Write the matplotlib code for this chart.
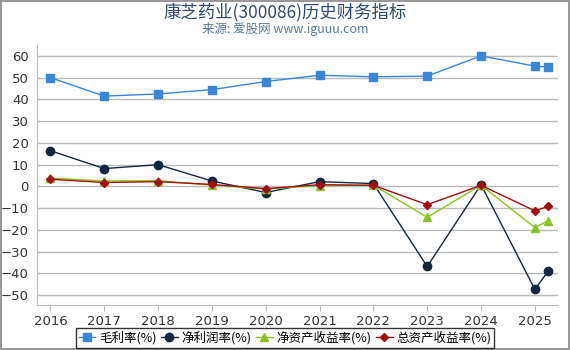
import matplotlib
matplotlib.use('Agg')
import matplotlib.pyplot as plt
from matplotlib.ticker import MultipleLocator

plt.rcParams['font.family'] = ['DejaVu Sans', 'Noto Sans CJK SC']

# 数据 (读自参考图)
x_pos = [2016, 2017, 2018, 2019, 2020, 2021, 2022, 2023, 2024, 2025, 2025.25]
year_ticks = [2016, 2017, 2018, 2019, 2020, 2021, 2022, 2023, 2024, 2025]
gross_margin = [50.0, 41.5, 42.5, 44.5, 48.2, 51.1, 50.4, 50.7, 60.0, 55.3, 54.9]
net_margin = [16.4, 8.2, 10.0, 2.5, -2.8, 2.2, 1.3, -36.8, 0.8, -47.3, -38.9]
roe = [3.8, 2.5, 2.6, 0.6, -1.2, 0.4, 0.6, -14.2, 0.6, -18.9, -15.7]
roa = [3.3, 1.8, 2.2, 0.9, -1.0, 0.8, 0.5, -8.4, 0.5, -11.2, -9.2]
series_names = ['毛利率(%)', '净利润率(%)', '净资产收益率(%)', '总资产收益率(%)']

fig = plt.figure(figsize=(5.7, 3.5), dpi=100)
fig.patch.set_edgecolor('#999999')
fig.patch.set_linewidth(1.5)
ax = fig.add_axes([37 / 570, 1 - 305 / 350, 521 / 570, 260 / 350])

ax.plot(x_pos, gross_margin, color='#3a86d6', lw=1.0, marker='s', ms=6, label=series_names[0])
ax.plot(x_pos, net_margin, color='#15263f', lw=1.0, marker='o', ms=6, label=series_names[1])
ax.plot(x_pos, roe, color='#8cc21f', lw=1.0, marker='^', ms=6, label=series_names[2])
ax.plot(x_pos, roa, color='#a00f0f', lw=1.0, marker='D', ms=4, label=series_names[3])

ax.set_xlim(2015.75, 2025.43)
ax.set_ylim(-54.5, 65)
ax.set_xticks(year_ticks)
ax.set_xticklabels([str(y) for y in year_ticks])
ax.yaxis.set_major_locator(MultipleLocator(10))
ax.grid(axis='y', color='#bbbbbb', lw=1)
ax.set_axisbelow(True)
for s in ['top', 'right']:
    ax.spines[s].set_visible(False)
for s in ['left', 'bottom']:
    ax.spines[s].set_color('#bbbbbb')
ax.tick_params(axis='y', length=0, labelsize=9.5, colors='#333333', pad=6)
ax.tick_params(axis='x', length=4, color='#bbbbbb', labelsize=9.5, labelcolor='#333333')

fig.text(0.5, 1 - 12 / 350, '康芝药业(300086)历史财务指标', ha='center', va='center',
         fontsize=12.5, color='#2f4a6e', family=['Noto Sans CJK SC', 'DejaVu Sans'])
fig.text(0.5, 1 - 29 / 350, '来源: 爱股网 www.iguuu.com', ha='center', va='center',
         fontsize=9, color='#5a7aa0', family=['Noto Sans CJK SC', 'DejaVu Sans'])

leg = fig.legend(loc='center', bbox_to_anchor=(0.5, 1 - 338 / 350), ncol=4,
                 frameon=True, fancybox=False, edgecolor='black',
                 handlelength=1.3, handletextpad=0.3, columnspacing=0.4,
                 borderpad=0.25, borderaxespad=0,
                 prop={'family': ['Noto Sans CJK SC', 'DejaVu Sans'], 'size': 9})
leg.get_frame().set_linewidth(1.0)

fig.savefig('out.png', dpi=100)
